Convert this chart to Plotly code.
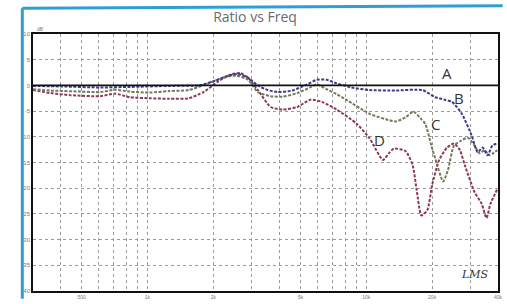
import math
import plotly.graph_objects as go

# ---- data ----
freq_a = [300, 40000]
db_a = [0, 0]

freq_b = [300, 402, 608, 830, 1256, 1715, 2004, 2341, 2597, 2881, 3196, 3545, 3933, 4595,
          5370, 5950, 6600, 7320, 8560, 10320, 13650, 18070, 20660, 22920, 24660, 27340,
          30340, 32280, 34030, 35840, 37720, 39720]
db_b = [-0.1, -0.2, -0.4, -0.3, -0.1, 0.0, 0.8, 1.9, 2.2, 1.5, 0.0, -0.9, -1.3, -1.0,
        0.2, 1.1, 1.1, 0.4, -0.4, -0.9, -1.0, -0.9, -2.3, -2.8, -3.2, -5.5,
        -9.8, -13.0, -12.1, -13.6, -11.7, -11.3]

freq_c = [300, 362, 494, 608, 710, 830, 1021, 1256, 1546, 1902, 2223, 2544, 2881, 3196,
          3657, 4140, 4840, 5540, 5950, 6600, 7320, 8120, 10320, 12300, 13650, 15140,
          16450, 17700, 18620, 19830, 20660, 22460, 23650, 25180, 27050, 29110, 31290,
          32960, 34740, 36560, 39720]
db_c = [-0.75, -1.0, -1.2, -1.3, -0.85, -1.2, -1.4, -1.1, -0.9, 0.4, 1.5, 1.9, 1.1, -1.3,
        -2.1, -2.2, -1.5, -0.4, 0.2, -0.75, -1.7, -2.8, -5.5, -6.6, -7.0, -6.2,
        -5.1, -6.4, -7.5, -11.7, -14.2, -18.7, -16.4, -11.7, -10.8, -10.2, -11.7,
        -13.2, -12.6, -13.6, -12.6]

freq_d = [300, 362, 445, 608, 710, 830, 1021, 1256, 1546, 1806, 2110, 2390, 2651, 2881,
          3196, 3657, 4140, 4840, 5540, 6270, 7320, 9010, 10320, 11930, 12700, 13380,
          15140, 16290, 16980, 17870, 19010, 20040, 21540, 23390, 25180, 26790, 28200,
          31290, 33650, 35450, 36960, 39720]
db_d = [-0.9, -1.5, -1.9, -2.1, -1.6, -2.3, -2.5, -2.6, -2.5, -1.3, 0.8, 2.1, 2.4, 1.5,
        -0.9, -4.2, -4.7, -4.2, -2.8, -3.2, -4.7, -7.4, -10.2, -14.5, -13.2, -12.3,
        -12.8, -15.5, -20.2, -25.3, -24.3, -19.2, -14.5, -12.1, -11.3, -12.6, -15.5,
        -20.8, -23.0, -25.8, -23.0, -20.2]

x_grid = [400, 500, 600, 700, 800, 900, 1000, 2000, 3000, 4000, 5000, 6000, 7000, 8000,
          9000, 10000, 20000, 30000, 40000]
x_labels = ["", "500", "", "", "", "", "1k", "2k", "", "", "5k", "", "", "", "",
            "10k", "20k", "", "40k"]
y_ticks = [10, 5, 0, -5, -10, -15, -20, -25, -30, -35, -40]
y_labels = ["10", "5", "0", "-5", "-10", "-15", "-20", "-25", "-30", "-35", "-40"]

series_labels = ["A", "B", "C", "D"]
label_freq = [23400, 26500, 20660, 11440]
label_db = [2.5, -2.5, -7.5, -10.6]

fig = go.Figure()
fig.add_trace(go.Scatter(x=freq_d, y=db_d, mode="lines", name="D",
                         line=dict(color="#8c3a52", width=2, dash="3px,1.5px", shape="spline", smoothing=0.6)))
fig.add_trace(go.Scatter(x=freq_c, y=db_c, mode="lines", name="C",
                         line=dict(color="#6f7a58", width=2, dash="3px,1.5px", shape="spline", smoothing=0.6)))
fig.add_trace(go.Scatter(x=freq_b, y=db_b, mode="lines", name="B",
                         line=dict(color="#3c3c8e", width=2, dash="3px,1.5px", shape="spline", smoothing=0.6)))
fig.add_trace(go.Scatter(x=freq_a, y=db_a, mode="lines", name="A",
                         line=dict(color="#111111", width=1.8)))

for t, lx, ly in zip(series_labels, label_freq, label_db):
    fig.add_annotation(x=math.log10(lx), y=ly, text=t, showarrow=False,
                       font=dict(family="Open Sans", size=15, color="#333333"))

fig.add_annotation(xref="paper", yref="paper", x=0.985, y=0.03, text="<i>LMS</i>",
                   showarrow=False, xanchor="right", yanchor="bottom",
                   font=dict(family="DejaVu Serif", size=11, color="#333333"))
fig.add_annotation(xref="paper", yref="paper", x=0.005, y=1.0, text="dB",
                   showarrow=False, xanchor="left", yanchor="bottom",
                   font=dict(family="Liberation Sans", size=5, color="#777777"))

# blue frame of the scanned page
fig.add_shape(type="line", xref="paper", yref="paper", x0=-0.023, x1=-0.023, y0=-0.03, y1=1.1,
              line=dict(color="#2f9fd3", width=3))
fig.add_shape(type="line", xref="paper", yref="paper", x0=-0.023, x1=1.01, y0=1.1, y1=1.11,
              line=dict(color="#2f9fd3", width=3))

fig.update_layout(
    width=507, height=304,
    margin=dict(l=33, r=4, t=34, b=7),
    paper_bgcolor="white", plot_bgcolor="white",
    showlegend=False,
    title=dict(text="Ratio vs Freq", x=255 / 507, xanchor="center", y=1 - 17 / 304, yanchor="middle",
               font=dict(family="Open Sans", size=14, color="#6a6a6a")),
    xaxis=dict(type="log", range=[2.4771, 4.6021], tickvals=x_grid, ticktext=x_labels,
               showgrid=True, gridcolor="#9a9a9a", griddash="dot", gridwidth=1,
               showline=True, linecolor="#111111", linewidth=1.5, mirror=True,
               ticks="", tickfont=dict(family="Liberation Sans", size=5, color="#777777"),
               ticklabelstandoff=0, zeroline=False),
    yaxis=dict(range=[-40, 10], tickvals=y_ticks, ticktext=y_labels,
               showgrid=True, gridcolor="#9a9a9a", griddash="dot", gridwidth=1,
               showline=True, linecolor="#111111", linewidth=1.5, mirror=True,
               ticks="", tickfont=dict(family="Liberation Sans", size=6, color="#777777"),
               zeroline=False),
)

fig.write_html("out.html", config={"displayModeBar": False},
               post_script="document.body.style.margin='0px';")
